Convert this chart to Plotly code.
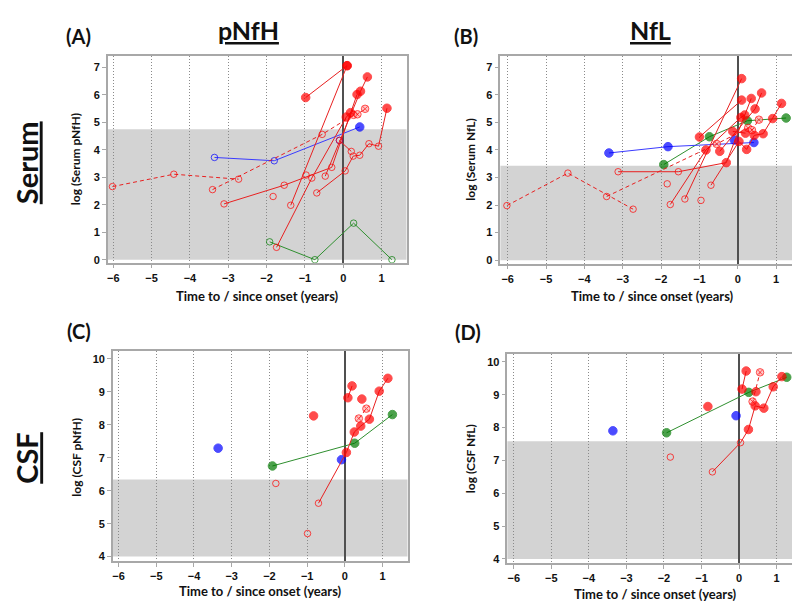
import plotly.graph_objects as go

# ---------------- data ----------------
# (A) Serum pNfH
A_threshold = 4.75
A_red_solid = [
    ([-0.98, 0.10], [5.90, 7.06]),
    ([-1.37, 0.10], [1.98, 7.06]),
    ([-3.11, -1.54, -0.30, 0.36], [2.03, 2.71, 3.36, 6.01]),
    ([-0.69, 0.05, 0.26, 0.43, 0.67, 0.92, 1.14], [2.43, 3.23, 3.77, 3.80, 4.22, 4.13, 5.51]),
    ([-0.47, 0.45, 0.63], [3.04, 6.13, 6.65]),
    ([-1.74, -0.82, 0.08, 0.19], [0.45, 2.97, 5.19, 5.35]),
    ([-0.10, 0.21], [4.34, 3.94]),
    ([-0.97], [3.08]),
    ([-1.83], [2.30]),
]
A_red_dashed = [([-6.02, -4.42, -2.73], [2.66, 3.11, 2.93])]
A_red_cross = [([-3.41, -0.55, 0.27, 0.37, 0.57], [2.55, 4.56, 5.27, 5.29, 5.49])]
A_blue = [([-3.36, -1.80, 0.43], [3.72, 3.60, 4.83]), ([-0.10], [4.34])]
A_green = [([-1.92, -0.74, 0.27, 1.27], [0.65, 0.00, 1.33, 0.00])]

# (B) Serum NfL
B_threshold = 3.43
B_red_solid = [
    ([-1.00, 0.10], [4.47, 5.81]),
    ([-1.38, 0.10], [2.22, 6.59]),
    ([-3.12, -1.55, -0.30, 0.35], [3.21, 3.21, 3.54, 5.87]),
    ([-0.70, 0.03, 0.23, 0.43, 0.66, 0.91, 1.14], [2.72, 4.31, 4.02, 4.53, 4.59, 5.14, 5.69]),
    ([-0.47, 0.45, 0.62], [3.95, 5.49, 6.07]),
    ([-1.76, -0.83, 0.08, 0.18], [2.02, 4.00, 5.18, 5.27]),
    ([-0.13, 0.20], [4.67, 4.61]),
    ([-0.96], [2.17]),
    ([-1.84], [2.77]),
]
B_red_dashed = [([-6.02, -4.43, -2.73], [1.98, 3.16, 1.85])]
B_red_cross = [([-3.42, -0.55, 0.27, 0.37, 0.55], [2.31, 4.22, 4.80, 4.72, 5.10])]
B_blue = [([-3.36, -1.82, 0.42], [3.89, 4.12, 4.27]), ([-0.09], [4.36])]
B_green = [([-1.93, -0.74, 0.25, 1.26], [3.47, 4.48, 5.06, 5.16])]

# (C) CSF pNfH
C_threshold = 6.34
C_red_solid = [
    ([-0.70, 0.04, 0.25, 0.42, 0.65, 0.91, 1.14], [5.62, 7.16, 7.78, 7.96, 8.17, 9.02, 9.41]),
    ([0.08, 0.19], [8.82, 9.18]),
    ([-0.83], [8.27]),
    ([0.45], [8.78]),
    ([-1.83], [6.22]),
    ([-0.99], [4.70]),
]
C_red_dashed = []
C_red_cross = [([0.37, 0.57], [8.19, 8.49])]
C_blue = [([-3.36], [7.29]), ([-0.09], [6.94])]
C_green = [([-1.92, 0.26, 1.26], [6.75, 7.44, 8.31])]

# (D) CSF NfL
D_threshold = 7.58
D_red_solid = [
    ([-0.71, 0.04, 0.25, 0.43, 0.66, 0.91, 1.14], [6.65, 7.54, 7.94, 8.66, 8.59, 9.24, 9.55]),
    ([0.08, 0.19], [9.17, 9.72]),
    ([-0.83], [8.64]),
    ([0.45], [9.09]),
    ([-1.83], [7.10]),
]
D_red_dashed = []
D_red_cross = [([0.36, 0.56], [8.79, 9.68])]
D_blue = [([-3.36], [7.90]), ([-0.08], [8.36])]
D_green = [([-1.93, 0.26, 1.27], [7.84, 9.07, 9.53])]

x_ticks = [-6, -5, -4, -3, -2, -1, 0, 1]
serum_ticks = [0, 1, 2, 3, 4, 5, 6, 7]
csf_ticks = [4, 5, 6, 7, 8, 9, 10]

# ---------------- styling ----------------
RED, RED_LINE = "#ff0000", "#e82020"
BLUE, BLUE_LINE = "#0000ff", "#3a3aff"
GREEN, GREEN_LINE = "#007a00", "#2f8f2f"
PINK = "#ffb0b0"
GRID = "#8a8a8a"
FRAME = "#a8a8a8"
SHADE = "#d3d3d3"
TICKFONT = dict(family="Liberation Sans, Arial", size=11, color="#111", weight="bold")
TITLEFONT = "Lato, Open Sans, sans-serif"

fig = go.Figure()


def add_series(series, thr, axis, color, line_color, dash="solid", cross=False):
    for xs, ys in series:
        symbols, colors, sizes = [], [], []
        for y in ys:
            if y > thr:
                if cross:
                    symbols.append("circle-x"); colors.append(PINK); sizes.append(7.5)
                else:
                    symbols.append("circle"); colors.append(color); sizes.append(8.5)
            else:
                symbols.append("circle-open"); colors.append(color); sizes.append(6.5)
        fig.add_trace(go.Scatter(
            x=xs, y=ys, xaxis="x" + axis, yaxis="y" + axis,
            mode="lines+markers" if len(xs) > 1 else "markers",
            line=dict(color=line_color, width=1, dash=dash),
            marker=dict(symbol=symbols, color=colors, size=sizes,
                        line=dict(color=color, width=1)),
            showlegend=False, hoverinfo="x+y",
        ))


DASH = "4px,3px"
panels = [
    ("", A_threshold, A_red_solid, A_red_dashed, A_red_cross, A_blue, A_green),
    ("2", B_threshold, B_red_solid, B_red_dashed, B_red_cross, B_blue, B_green),
    ("3", C_threshold, C_red_solid, C_red_dashed, C_red_cross, C_blue, C_green),
    ("4", D_threshold, D_red_solid, D_red_dashed, D_red_cross, D_blue, D_green),
]
for ax, thr, rs, rd, rc, bl, gr in panels:
    add_series(gr, thr, ax, GREEN, GREEN_LINE)
    add_series(bl, thr, ax, BLUE, BLUE_LINE)
    add_series(rd, thr, ax, RED, RED_LINE, dash=DASH)
    add_series(rc, thr, ax, RED, RED_LINE, dash=DASH, cross=True)
    add_series(rs, thr, ax, RED, RED_LINE)

W, H = 800, 601


def dom_x(a, b):
    return [a / W, b / W]


def dom_y(top, bottom):
    return [1 - bottom / H, 1 - top / H]


axis_specs = {
    "": (dom_x(99, 398), dom_y(48, 256), [-6.14, 1.65], [-0.11, 7.42], serum_ticks, 0, A_threshold),
    "2": (dom_x(492, 795), dom_y(48, 257), [-6.19, 1.70], [-0.13, 7.42], serum_ticks, 0, B_threshold),
    "3": (dom_x(104, 399), dom_y(345, 556), [-6.15, 1.66], [3.86, 10.23], csf_ticks, 4, C_threshold),
    "4": (dom_x(499, 796), dom_y(348, 558), [-6.17, 1.73], [3.87, 10.23], csf_ticks, 4, D_threshold),
}

layout = dict(
    width=W, height=H, margin=dict(l=0, r=0, t=0, b=0),
    paper_bgcolor="white", plot_bgcolor="white",
    showlegend=False,
)
shapes = []
for ax, (dx, dy, xr, yr, yt, base, thr) in axis_specs.items():
    common = dict(showline=True, mirror=True, linecolor=FRAME, linewidth=1.5,
                  ticks="outside", tickcolor=FRAME, ticklen=4, tickwidth=1,
                  tickfont=TICKFONT)
    layout["xaxis" + ax] = dict(
        domain=dx, range=xr, anchor="y" + ax, tickvals=x_ticks,
        showgrid=True, gridcolor=GRID, griddash="1px,2px", gridwidth=1,
        zeroline=True, zerolinecolor="#505050", zerolinewidth=1.5, **common)
    layout["yaxis" + ax] = dict(
        domain=dy, range=yr, anchor="x" + ax, tickvals=yt,
        showgrid=False, zeroline=False, **common)
    shapes.append(dict(type="rect", xref=("x" + ax) + " domain", yref="y" + ax,
                       x0=0, x1=1, y0=base, y1=thr, fillcolor=SHADE,
                       line=dict(width=0), layer="below"))
layout["shapes"] = shapes


def ann(text, x, y, size, angle=0):
    return dict(text=text, x=x / W, y=1 - y / H, xref="paper", yref="paper",
                showarrow=False, textangle=angle, xanchor="center", yanchor="middle",
                font=dict(family=TITLEFONT, size=size, color="#111", weight="bold"))


annotations = [
    ann("<u>pNfH</u>", 240, 22, 25),
    ann("<u>NfL</u>", 642, 22, 25),
    ann("<u>Serum</u>", 17, 155, 29, -90),
    ann("<u>CSF</u>", 18, 452, 29, -90),
    ann("(A)", 70, 28, 20),
    ann("(B)", 458, 28, 20),
    ann("(C)", 70, 325, 20),
    ann("(D)", 460, 326, 20),
    ann("Time to / since onset (years)", 249, 289, 13),
    ann("Time to / since onset (years)", 644, 289, 13),
    ann("Time to / since onset (years)", 252, 586, 13),
    ann("Time to / since onset (years)", 647, 589, 13),
    ann("log (Serum pNfH)", 66, 152, 12, -90),
    ann("log (Serum NfL)", 462, 152, 12, -90),
    ann("log (CSF pNfH)", 68, 451, 12, -90),
    ann("log (CSF NfL)", 462, 453, 12, -90),
]
layout["annotations"] = annotations
fig.update_layout(**layout)
fig.write_html("out.html")
